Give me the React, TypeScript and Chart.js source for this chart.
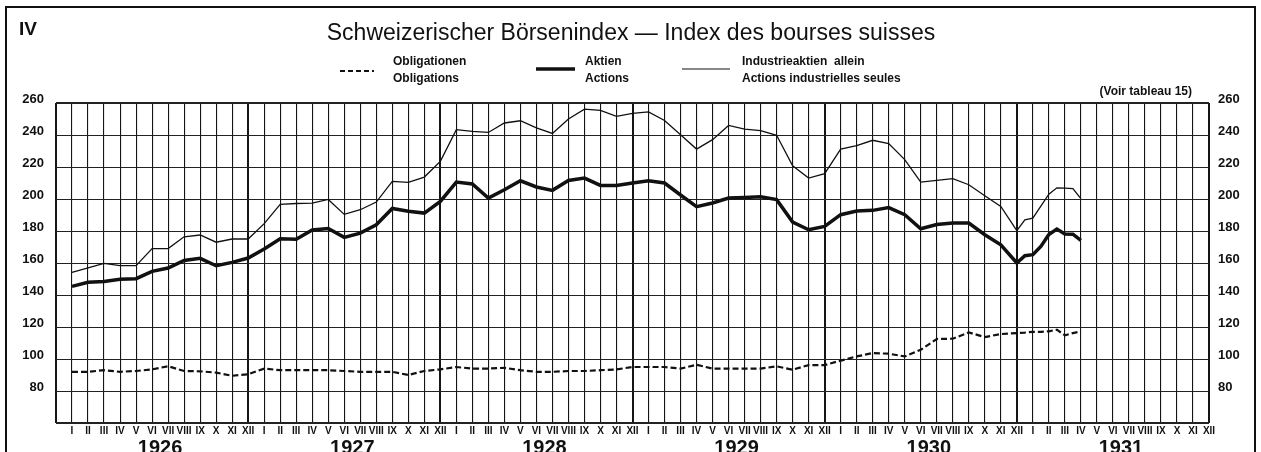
import React, { useEffect, useRef } from "react";
import { Chart, registerables } from "chart.js";

Chart.register(...registerables);

// Month offsets since January 1926 (1931 is reported twice a month)
const periods = [
  0, 1, 2, 3, 4, 5, 6, 7, 8, 9, 10, 11,
  12, 13, 14, 15, 16, 17, 18, 19, 20, 21, 22, 23,
  24, 25, 26, 27, 28, 29, 30, 31, 32, 33, 34, 35,
  36, 37, 38, 39, 40, 41, 42, 43, 44, 45, 46, 47,
  48, 49, 50, 51, 52, 53, 54, 55, 56, 57, 58, 59,
  59.5, 60, 60.5, 61, 61.5, 62, 62.5, 63,
];

const obligationen = [
  92, 92, 93, 92, 92.5, 93.5, 95.5, 92.5, 92.3, 91.5, 89.5, 90.5,
  94, 93, 93, 93, 93, 92.5, 92, 92, 92, 90, 92.5, 93.5,
  95, 94, 94, 94.5, 93, 92, 92, 92.5, 92.5, 93, 93.5, 95,
  95, 95, 94, 96.4, 94, 94, 94, 94, 95.4, 93.3, 96.2, 96.2,
  99, 101.6, 103.7, 103.3, 101.6, 105.8, 112.5, 112.7, 116.6, 113.7, 115.6, 116.2,
  116.5, 117, 117, 117.3, 118.3, 114.8, 116.2, 117.3,
];

const aktien = [
  145.4, 147.9, 148.5, 149.8, 150.2, 154.8, 156.9, 161.6, 162.9, 158.3, 160.4, 163.1,
  168.7, 175.2, 174.8, 180.6, 181.6, 176, 178.7, 183.9, 194.1, 192.3, 191.2, 198.5,
  210.6, 209.4, 200.6, 205.8, 211.4, 207.5, 205.4, 211.6, 213.1, 208.5, 208.5, 210,
  211.4, 210, 202.5, 195.2, 197.5, 200.6, 201, 201.4, 199.6, 185.6, 180.8, 182.9,
  190.2, 192.5, 192.9, 194.6, 190.2, 181.4, 184, 185, 185, 177.7, 171.4, 160,
  164.6, 165.2, 170.4, 177.8, 181.2, 178.1, 178, 174.1,
];

const industrie = [
  154.1, 156.9, 159.8, 158.3, 158.3, 169, 169, 176.4, 177.5, 173, 175, 175,
  184.6, 196.6, 197.2, 197.4, 199.7, 190.4, 193.3, 198.1, 211, 210.4, 213.7, 223.5,
  243.3, 242.3, 241.6, 247.5, 248.9, 244.4, 241, 250, 256.2, 255.4, 251.6, 253.5,
  254.4, 249.1, 240.2, 231.2, 237.1, 246, 243.7, 242.7, 239.8, 220.8, 213.1, 215.8,
  231.2, 233.3, 236.7, 234.6, 224.6, 210.6, 211.6, 212.7, 208.9, 202, 195.4, 180.2,
  187, 188, 195.5, 203, 207, 206.8, 206.5, 200.2,
];

const monthLabels = ["I", "II", "III", "IV", "V", "VI", "VII", "VIII", "IX", "X", "XI", "XII"];
const years = ["1926", "1927", "1928", "1929", "1930", "1931"];
const yTickLabels = [80, 100, 120, 140, 160, 180, 200, 220, 240, 260];

const title = "Schweizerischer Börsenindex — Index des bourses suisses";
const legendItems = [
  { de: "Obligationen", fr: "Obligations" },
  { de: "Aktien", fr: "Actions" },
  { de: "Industrieaktien  allein", fr: "Actions industrielles seules" },
];
const plateNumber = "IV";
const sourceNote = "(Voir tableau 15)";

const FONT = '"Liberation Sans", Arial, sans-serif';
const NARROW = '"Liberation Sans Narrow", "Liberation Sans", Arial, sans-serif';

const decorPlugin = {
  id: "decor",
  afterDraw(chart: any) {
    const ctx = chart.ctx as CanvasRenderingContext2D;
    const xs = chart.scales.x;
    const ys = chart.scales.y;
    ctx.save();
    ctx.fillStyle = "#111";
    ctx.strokeStyle = "#111";

    // frame
    ctx.lineWidth = 2;
    ctx.beginPath();
    ctx.moveTo(6, 460);
    ctx.lineTo(6, 7);
    ctx.lineTo(1255, 7);
    ctx.lineTo(1255, 460);
    ctx.stroke();

    // plate number
    ctx.font = `bold 19px ${FONT}`;
    ctx.textAlign = "left";
    ctx.textBaseline = "middle";
    ctx.fillText(plateNumber, 19, 30);

    // title
    ctx.font = `23px ${FONT}`;
    ctx.textAlign = "center";
    ctx.fillText(title, 631, 34);

    // legend
    ctx.font = `bold 12px ${NARROW}`;
    ctx.textAlign = "left";
    const legendX = [393, 585, 742];
    legendItems.forEach((it, k) => {
      ctx.fillText(it.de, legendX[k], 62);
      ctx.fillText(it.fr, legendX[k], 79);
    });
    // legend samples
    ctx.beginPath();
    ctx.lineWidth = 1.8;
    ctx.setLineDash([5, 3]);
    ctx.moveTo(340, 71);
    ctx.lineTo(374, 71);
    ctx.stroke();
    ctx.setLineDash([]);
    ctx.beginPath();
    ctx.lineWidth = 3.5;
    ctx.moveTo(536, 69);
    ctx.lineTo(575, 69);
    ctx.stroke();
    ctx.beginPath();
    ctx.lineWidth = 1.2;
    ctx.moveTo(682, 69);
    ctx.lineTo(730, 69);
    ctx.stroke();

    // source note
    ctx.font = `bold 12px ${NARROW}`;
    ctx.textAlign = "right";
    ctx.fillText(sourceNote, 1192, 92);

    // y labels both sides
    ctx.font = `bold 13px ${NARROW}`;
    ctx.textBaseline = "middle";
    yTickLabels.forEach((v) => {
      const y = ys.getPixelForValue(v) - 4;
      ctx.textAlign = "right";
      ctx.fillText(String(v), xs.left - 12, y);
      ctx.textAlign = "left";
      ctx.fillText(String(v), xs.right + 9, y);
    });

    // month labels
    ctx.font = `bold 10px ${NARROW}`;
    ctx.textAlign = "center";
    years.forEach((_, yi) => {
      monthLabels.forEach((m, mi) => {
        const x = xs.getPixelForValue(yi * 12 + mi);
        ctx.fillText(m, x, 431);
      });
    });

    // year labels
    ctx.font = `bold 20px ${FONT}`;
    years.forEach((yr, yi) => {
      const x = xs.getPixelForValue(yi * 12 + 5.5);
      ctx.fillText(yr, x, 448);
    });

    ctx.restore();
  },
};

export default function App() {
  const ref = useRef<HTMLCanvasElement | null>(null);

  useEffect(() => {
    if (!ref.current) return;
    const toPts = (arr: number[]) => periods.map((p, i) => ({ x: p, y: arr[i] }));
    const chart = new Chart(ref.current, {
      type: "line",
      data: {
        datasets: [
          {
            label: "Obligationen",
            data: toPts(obligationen),
            borderColor: "#111",
            borderWidth: 2.2,
            borderDash: [6, 3],
            pointRadius: 0,
            tension: 0,
          },
          {
            label: "Aktien",
            data: toPts(aktien),
            borderColor: "#111",
            borderWidth: 3.5,
            pointRadius: 0,
            tension: 0,
          },
          {
            label: "Industrieaktien allein",
            data: toPts(industrie),
            borderColor: "#111",
            borderWidth: 1.3,
            pointRadius: 0,
            tension: 0,
          },
        ],
      },
      options: {
        animation: false,
        responsive: false,
        devicePixelRatio: 1,
        layout: { padding: { left: 56, right: 52, top: 103, bottom: 29 } },
        plugins: { legend: { display: false }, tooltip: { enabled: false }, title: { display: false } },
        scales: {
          x: {
            type: "linear",
            min: -1,
            max: 71,
            ticks: { display: false, stepSize: 1, autoSkip: false, maxTicksLimit: 200 },
            border: { display: false },
            grid: {
              drawTicks: false,
              color: "#151515",
              lineWidth: (c: any) => {
                const v = c.tick ? c.tick.value : 0;
                return ((v % 12) + 12) % 12 === 11 ? 2 : 1.1;
              },
            },
          },
          y: {
            type: "linear",
            min: 60,
            max: 260,
            ticks: { display: false, stepSize: 20 },
            border: { display: false },
            grid: {
              drawTicks: false,
              color: "#222",
              lineWidth: (c: any) => {
                const v = c.tick ? c.tick.value : 0;
                return v === 260 || v === 60 ? 2 : 1;
              },
            },
          },
        },
      },
      plugins: [decorPlugin],
    });
    return () => chart.destroy();
  }, []);

  return (
    <div style={{ position: "fixed", left: 0, top: 0, width: 1261, height: 452, background: "#fff" }}>
      <canvas ref={ref} width={1261} height={452} style={{ display: "block" }} />
    </div>
  );
}
